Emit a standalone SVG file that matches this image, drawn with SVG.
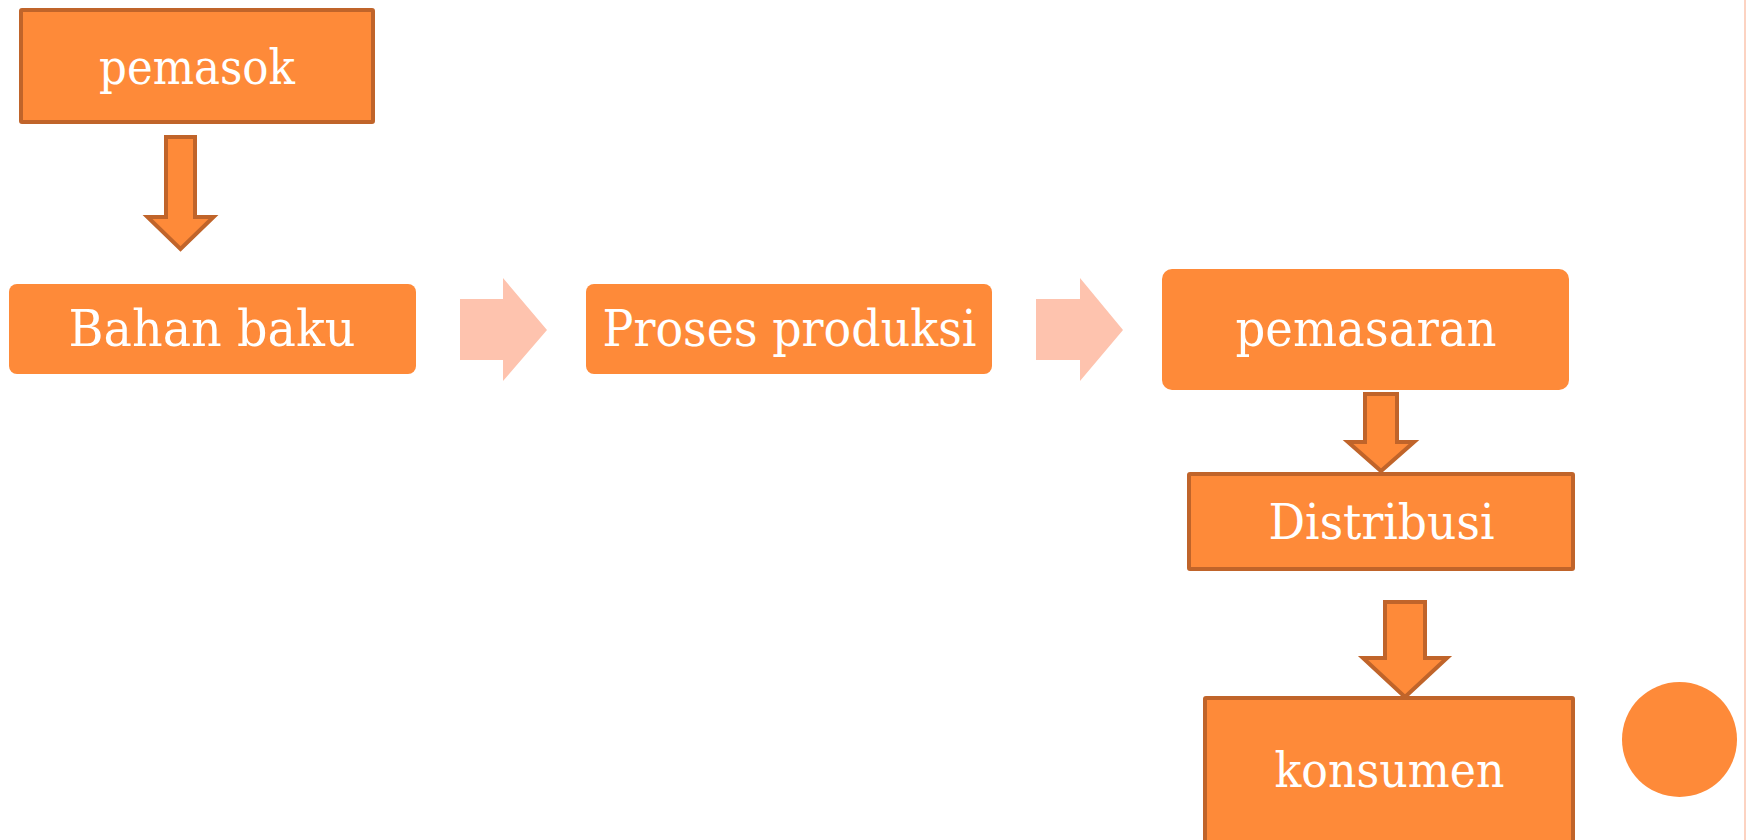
<svg xmlns="http://www.w3.org/2000/svg" width="1746" height="840" viewBox="0 0 1746 840">
<style>
.box{fill:#FE8A39;stroke:#C0642A;stroke-width:4}
.rbox{fill:#FE8A39}
.dn{fill:#FE8A39;stroke:#C0642A;stroke-width:4;stroke-linejoin:miter}
.rt{fill:#FEC3AE}
.t{font-family:"DejaVu Serif","Liberation Serif",serif;fill:#FFFFFF;text-anchor:middle}
</style>
<rect width="1746" height="840" fill="#FFFFFF"/>
<line x1="1745" y1="0" x2="1745" y2="840" stroke="#FBC4AE" stroke-width="1.5"/>
<g id="connectors">
<path class="dn" d="M166,137 H195 V217 H213.5 L180.5,249 L147.5,217 H166 Z"/>
<path class="rt" d="M460,299 H503 V278 L547,330 L503,381 V360 H460 Z"/>
<path class="rt" d="M1036,299 H1080 V278 L1123,330 L1080,381 V360 H1036 Z"/>
<path class="dn" d="M1365,394 H1397 V442 H1414 L1381,471 L1348,442 H1365 Z"/>
<path class="dn" d="M1385,602 H1425 V658 H1447 L1405,697 L1363,658 H1385 Z"/>
</g>
<g id="pemasok">
<rect class="box" x="21" y="10" width="352" height="112" rx="1"/>
<text class="t" x="197" y="84" font-size="48" textLength="196" lengthAdjust="spacingAndGlyphs">pemasok</text>
</g>
<g id="bahan-baku">
<rect class="rbox" x="9" y="284" width="407" height="90" rx="8"/>
<text class="t" x="212" y="346" font-size="50" textLength="287" lengthAdjust="spacingAndGlyphs">Bahan baku</text>
</g>
<g id="proses-produksi">
<rect class="rbox" x="586" y="284" width="406" height="90" rx="8"/>
<text class="t" x="789.5" y="346" font-size="50" textLength="374" lengthAdjust="spacingAndGlyphs">Proses produksi</text>
</g>
<g id="pemasaran">
<rect class="rbox" x="1162" y="269" width="407" height="121" rx="10"/>
<text class="t" x="1366" y="346" font-size="50" textLength="261" lengthAdjust="spacingAndGlyphs">pemasaran</text>
</g>
<g id="distribusi">
<rect class="box" x="1189" y="474" width="384" height="95" rx="1"/>
<text class="t" x="1381.5" y="539" font-size="48" textLength="226" lengthAdjust="spacingAndGlyphs">Distribusi</text>
</g>
<g id="konsumen">
<rect class="box" x="1205" y="698" width="368" height="200" rx="1"/>
<text class="t" x="1389.5" y="787" font-size="48" textLength="230" lengthAdjust="spacingAndGlyphs">konsumen</text>
</g>
<g id="circle">
<circle cx="1679.5" cy="739.5" r="57.5" fill="#FE8A39"/>
</g>
</svg>
